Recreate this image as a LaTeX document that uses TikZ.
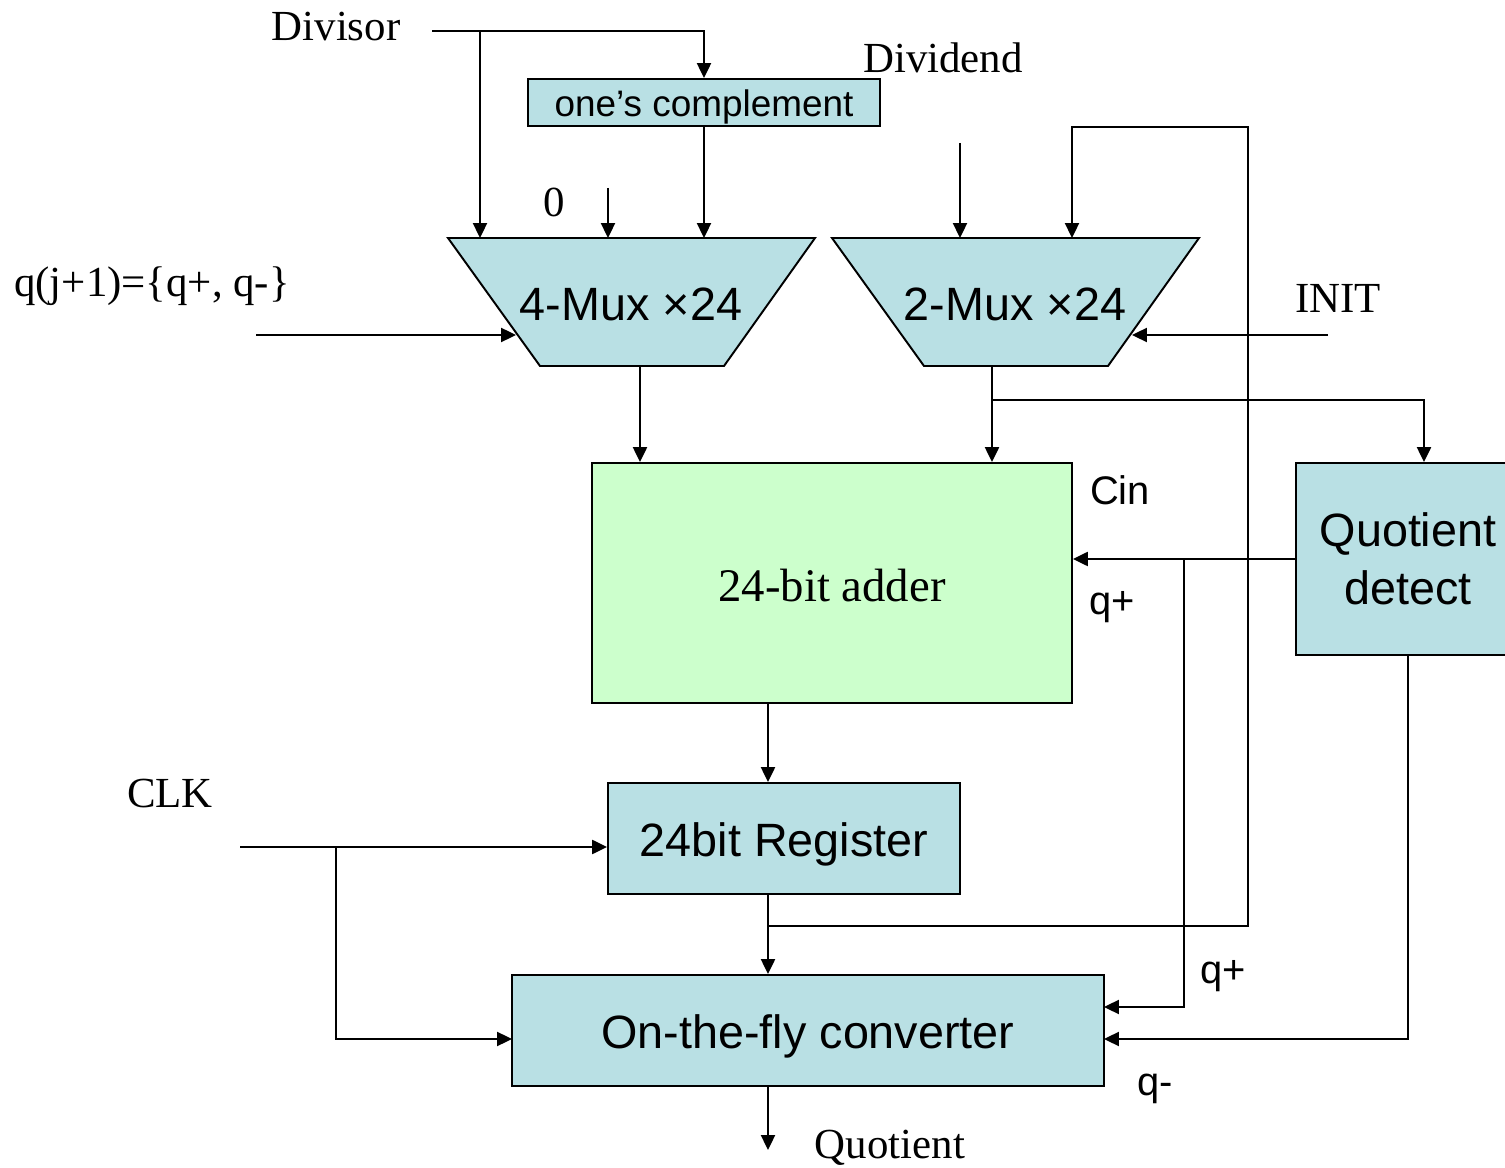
\documentclass[tikz,border=0pt]{standalone}
\usepackage{fontspec}
\setmainfont{Liberation Serif}
\setsansfont{Liberation Sans}
\usetikzlibrary{arrows.meta}

\definecolor{boxblue}{RGB}{185,224,228}
\definecolor{addgreen}{RGB}{204,255,204}

\tikzset{
  blk/.style={draw, fill=boxblue, inner sep=0pt, align=center, font=\sffamily\fontsize{26.6}{33}\selectfont},
  oneline/.style={text height=20.9pt, text depth=0pt},
  mux/.style={inner sep=0pt, font=\sffamily\fontsize{26.6}{31}\selectfont},
  lbl/.style={inner sep=0pt, font=\fontsize{24.4}{28}\selectfont},
  sig/.style={inner sep=0pt, font=\sffamily\fontsize{22.7}{26}\selectfont},
}

\begin{document}
\begin{tikzpicture}[x=0.02cm, y=-0.02cm, line width=1.1pt, >={Triangle[length=8.5pt,width=8pt]}]
\useasboundingbox (0,0) rectangle (1505,1168);

    % muxes
    \draw[fill=boxblue] (448,238) -- (815,238) -- (724,366) -- (540,366) -- cycle;
    \node[mux] (m4) at (631,304) {4-Mux ×24};
    \draw[fill=boxblue] (832,238) -- (1199,238) -- (1108,366) -- (924,366) -- cycle;
    \node[mux] (m2) at (1015,304) {2-Mux ×24};

    % mux ports
    \coordinate (m4i1) at (480,238);
    \coordinate (m4i2) at (608,238);
    \coordinate (m4i3) at (704,238);
    \coordinate (m4s) at (516,335);
    \coordinate (m4o) at (640,366);
    \coordinate (m2i1) at (960,238);
    \coordinate (m2i2) at (1072,238);
    \coordinate (m2s) at (1132,335);
    \coordinate (m2o) at (992,366);

    % blocks
    \node[blk, oneline, text height=16.5pt, minimum width=7.04cm, minimum height=0.94cm, font=\sffamily\fontsize{21}{24}\selectfont] (onec) at (704,102.5) {one’s complement};
    \node[blk, oneline, fill=addgreen, minimum width=9.6cm, minimum height=4.8cm, font=\fontsize{26.6}{31}\selectfont] (add) at (832,583) {24-bit adder};
    \node[blk, minimum width=4.48cm, minimum height=3.84cm] (qd) at (1408,559) {Quotient\\detect};
    \node[blk, oneline, minimum width=7.04cm, minimum height=2.22cm] (reg) at (784,838.5) {24bit Register};
    \node[blk, oneline, minimum width=11.84cm, minimum height=2.22cm] (conv) at (808,1030.5) {On-the-fly converter};

    % texts
    \node[lbl] (dvs) at (336,27) {Divisor};
    \node[lbl] (zero) at (554,202) {0};
    \node[lbl] (qsel) at (152,286) {q(j+1)=\{q+, q-\}};
    \node[lbl] (dvd) at (943,58) {Dividend};
    \node[lbl] (init) at (1338,298) {INIT};
    \node[lbl] (clkl) at (170,794) {CLK};
    \node[lbl] (quo) at (890,1148) {Quotient};
    \node[sig] (cin) at (1120,490) {Cin};
    \node[sig] (qp1) at (1112,607) {q+};
    \node[sig] (qp2) at (1223,976) {q+};
    \node[sig] (qm) at (1155,1089) {q-};

    % divisor -> muxes
    \coordinate (dvsin) at (432,31);
    \draw[->] (dvsin) -| (onec.north);
    \draw[->] (dvsin -| m4i1) -- (m4i1);
    \draw[->] (onec.south) -- (m4i3);
    \coordinate (zin) at (608,188);
    \draw[->] (zin) -- (m4i2);
    \coordinate (qin) at (256,335);
    \draw[->] (qin) -- (m4s);

    % dividend, init
    \coordinate (dvdin) at (960,143);
    \draw[->] (dvdin) -- (m2i1);
    \coordinate (initin) at (1328,335);
    \draw[->] (initin) -- (m2s);

    % muxes -> adder, quotient detect
    \draw[->] (m4o) -- (m4o |- add.north);
    \draw[->] (m2o) -- (m2o |- add.north);
    \coordinate (tap2) at (992,400);
    \draw[->] (tap2) -| ([xshift=0.32cm]qd.north);

    % quotient detect -> adder, converter
    \draw[->] (qd.west) -- (qd.west -| add.east);
    \coordinate (qb) at (1184,559);
    \coordinate (cq1) at (1104,1007);
    \coordinate (cq2) at (1104,1039);
    \draw[->] (qb) |- (cq1);
    \draw[->] (qd.south) |- (cq2);

    % adder -> register -> converter
    \coordinate (col) at (768,0);
    \draw[->] (add.south -| col) -- (reg.north -| col);
    \draw[->] (reg.south -| col) -- (conv.north -| col);
    \coordinate (tap) at (768,926);
    \draw[->] (tap) -| (1248,127) -| (m2i2);

    % clock
    \coordinate (clk) at (240,847);
    \coordinate (clkb) at (336,847);
    \coordinate (cl) at (512,1039);
    \draw[->] (clk) -- (clk -| reg.west);
    \draw[->] (clkb) |- (cl);

    % output
    \coordinate (qout) at (768,1150);
    \draw[->] (conv.south -| col) -- (qout);

\end{tikzpicture}
\end{document}
